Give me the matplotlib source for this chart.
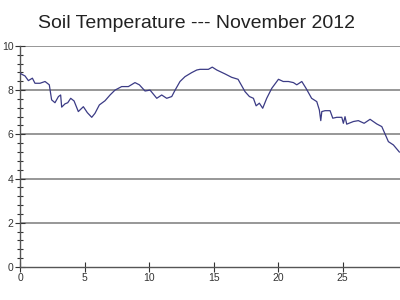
import numpy as np
import matplotlib
matplotlib.use('Agg')
import matplotlib.pyplot as plt
from matplotlib.ticker import MultipleLocator

# Soil temperature readings (day of month, degrees)
days = [0.0, 0.39, 0.65, 0.96, 1.16, 1.55, 1.94, 2.27, 2.45, 2.71, 2.98, 3.15, 3.23,
        3.49, 3.7, 3.93, 4.19, 4.52, 4.91, 5.22, 5.56, 5.81, 6.15, 6.59, 6.98, 7.36,
        7.88, 8.4, 8.91, 9.25, 9.69, 10.08, 10.6, 10.98, 11.37, 11.76, 12.02, 12.4,
        12.79, 13.3, 13.7, 13.95, 14.6, 14.9, 15.25, 15.9, 16.4, 16.9, 17.44, 17.78,
        18.09, 18.3, 18.55, 18.81, 19.12, 19.51, 20.03, 20.4, 20.8, 21.19, 21.45,
        21.84, 22.17, 22.6, 23.0, 23.2, 23.31, 23.39, 23.64, 24.03, 24.24, 24.55,
        24.94, 25.06, 25.19, 25.32, 25.84, 26.22, 26.67, 27.13, 27.65, 28.04, 28.55,
        28.94, 29.4]
temps = [8.76, 8.64, 8.43, 8.54, 8.31, 8.31, 8.39, 8.24, 7.56, 7.43, 7.71, 7.78, 7.23,
         7.38, 7.43, 7.63, 7.51, 7.03, 7.25, 6.98, 6.77, 6.95, 7.33, 7.52, 7.78, 8.0,
         8.16, 8.16, 8.34, 8.24, 7.96, 8.0, 7.63, 7.78, 7.63, 7.71, 8.0, 8.39,
         8.61, 8.79, 8.91, 8.94, 8.94, 9.04, 8.91, 8.73, 8.58, 8.49, 7.93, 7.71,
         7.63, 7.29, 7.41, 7.18, 7.63, 8.08, 8.49, 8.39, 8.39, 8.34, 8.24,
         8.39, 8.08, 7.63, 7.48, 7.1, 6.62, 7.03, 7.07, 7.07, 6.73, 6.77,
         6.77, 6.5, 6.8, 6.46, 6.58, 6.62, 6.5, 6.68, 6.47, 6.35, 5.67,
         5.52, 5.2]

plt.rcParams['font.family'] = ['Liberation Sans', 'DejaVu Sans']

fig = plt.figure(figsize=(4, 3), dpi=100)
ax = fig.add_axes([0.05, 0.11, 0.95, 0.737])

for y in [2, 4, 6, 8, 10]:
    ax.axhline(y, color='#858585', lw=1.2, zorder=1)

ax.plot(days, temps, color='#3b3b85', lw=0.9, zorder=3)

ax.set_xlim(0, 29.45)
ax.set_ylim(0, 10)
ax.xaxis.set_major_locator(MultipleLocator(5))
ax.yaxis.set_major_locator(MultipleLocator(2))
ax.yaxis.set_minor_locator(MultipleLocator(0.4))

for s in ['top', 'right']:
    ax.spines[s].set_visible(False)
for s in ['left', 'bottom']:
    ax.spines[s].set_color('#555555')
    ax.spines[s].set_linewidth(1.0)

ax.tick_params(axis='both', which='major', direction='inout', length=7, width=0.8,
               colors='#333333', labelsize=7.5, pad=1)
ax.tick_params(axis='y', which='minor', direction='inout', length=5, width=0.8,
               colors='#333333')

fig.suptitle('Soil Temperature --- November 2012', x=0.49, y=0.95,
             fontsize=14, color='#222222')

fig.savefig('out.png', dpi=100)
